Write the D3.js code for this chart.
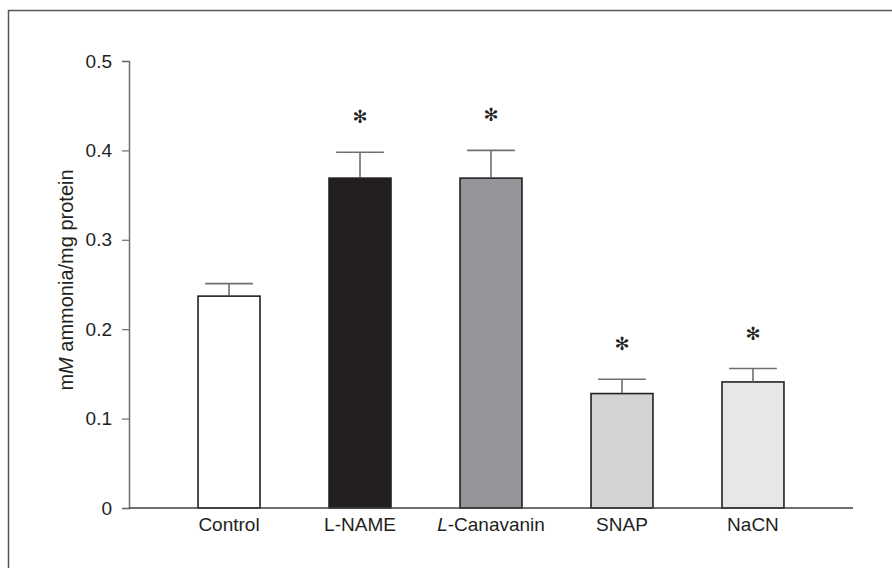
<!DOCTYPE html>
<html>
<head>
<meta charset="utf-8">
<script src="https://cdn.jsdelivr.net/npm/d3@7/dist/d3.min.js"></script>
<style>
  html, body { margin: 0; padding: 0; background: #fff; }
  svg { display: block; }
  text { font-family: "Liberation Sans", Arial, Helvetica, sans-serif; fill: #231f20; }
</style>
</head>
<body>
<svg id="chart" width="892" height="568"></svg>
<script>
// Ammonia production per treatment (mean ± SEM)
const categories = ["Control", "L-NAME", "L-Canavanin", "SNAP", "NaCN"];
const means      = [0.237, 0.369, 0.369, 0.128, 0.141];
const errors     = [0.014, 0.029, 0.031, 0.016, 0.015];
const significant = [false, true, true, true, true];
const fills      = ["#ffffff", "#231f20", "#939598", "#d1d3d4", "#e6e7e8"];
const yTicks     = [0, 0.1, 0.2, 0.3, 0.4, 0.5];

const svg = d3.select("#chart");

// Outer frame
svg.append("path")
  .attr("d", "M8.5,568 L8.5,10.5 L892,10.5")
  .attr("fill", "none")
  .attr("stroke", "#555")
  .attr("stroke-width", 1.5);

const plotLeft = 129, plotRight = 853, plotTop = 61, plotBottom = 508;

const x = d3.scaleBand()
  .domain(categories)
  .range([plotLeft, plotRight])
  .paddingInner(0.527)
  .paddingOuter(0.527);

const y = d3.scaleLinear().domain([0, 0.5]).range([plotBottom, plotTop]);

// Y axis
const yAxis = svg.append("g")
  .attr("transform", `translate(${plotLeft},0)`)
  .call(d3.axisLeft(y)
    .tickValues(yTicks)
    .tickSize(7)
    .tickPadding(10)
    .tickFormat(d => d === 0 ? "0" : d3.format(".1f")(d)));
yAxis.attr("font-size", null).attr("font-family", null);
yAxis.select(".domain").attr("stroke", "#6d6e71").attr("stroke-width", 1.5);
yAxis.selectAll(".tick line").attr("stroke", "#6d6e71").attr("stroke-width", 1.2);
yAxis.selectAll(".tick text")
  .style("font-size", "19px")
  .style("font-family", "'Liberation Sans', Arial, sans-serif")
  .attr("fill", "#231f20");

// Bars
const g = svg.append("g");
g.selectAll("rect.bar")
  .data(categories)
  .join("rect")
  .attr("class", "bar")
  .attr("x", d => x(d))
  .attr("width", x.bandwidth())
  .attr("y", (d, i) => y(means[i]))
  .attr("height", (d, i) => y(0) - y(means[i]))
  .attr("fill", (d, i) => fills[i])
  .attr("stroke", "#231f20")
  .attr("stroke-width", 1.6);

// Error bars (upper whisker only) and significance marks
const capHalf = x.bandwidth() * 0.385;
categories.forEach((c, i) => {
  const cx = x(c) + x.bandwidth() / 2;
  const yTop = y(means[i] + errors[i]);
  g.append("line")
    .attr("x1", cx).attr("x2", cx)
    .attr("y1", y(means[i])).attr("y2", yTop)
    .attr("stroke", "#58595b").attr("stroke-width", 1.4);
  g.append("line")
    .attr("x1", cx - capHalf).attr("x2", cx + capHalf)
    .attr("y1", yTop).attr("y2", yTop)
    .attr("stroke", "#6d6e71").attr("stroke-width", 1.6);
  if (significant[i]) {
    g.append("text")
      .attr("x", cx)
      .attr("y", yTop - 29)
      .attr("text-anchor", "middle")
      .style("font-family", "'DejaVu Sans', sans-serif")
      .style("font-size", "18px")
      .text("\u273B");
  }
});

// X axis baseline
svg.append("line")
  .attr("x1", plotLeft).attr("x2", plotRight)
  .attr("y1", plotBottom).attr("y2", plotBottom)
  .attr("stroke", "#414042").attr("stroke-width", 1.5);

// Category labels
const xl = svg.append("g");
categories.forEach((c, i) => {
  const t = xl.append("text")
    .attr("x", x(c) + x.bandwidth() / 2)
    .attr("y", 531)
    .attr("text-anchor", "middle")
    .style("font-size", "19px");
  if (c === "L-Canavanin") {
    t.append("tspan").style("font-style", "italic").text("L");
    t.append("tspan").text("-Canavanin");
  } else {
    t.text(c);
  }
});

// Y axis title
const yt = svg.append("text")
  .attr("transform", "translate(73,280) rotate(-90)")
  .attr("text-anchor", "middle")
  .style("font-size", "20px");
yt.append("tspan").text("m");
yt.append("tspan").style("font-style", "italic").text("M");
yt.append("tspan").text(" ammonia/mg protein");
</script>
</body>
</html>
